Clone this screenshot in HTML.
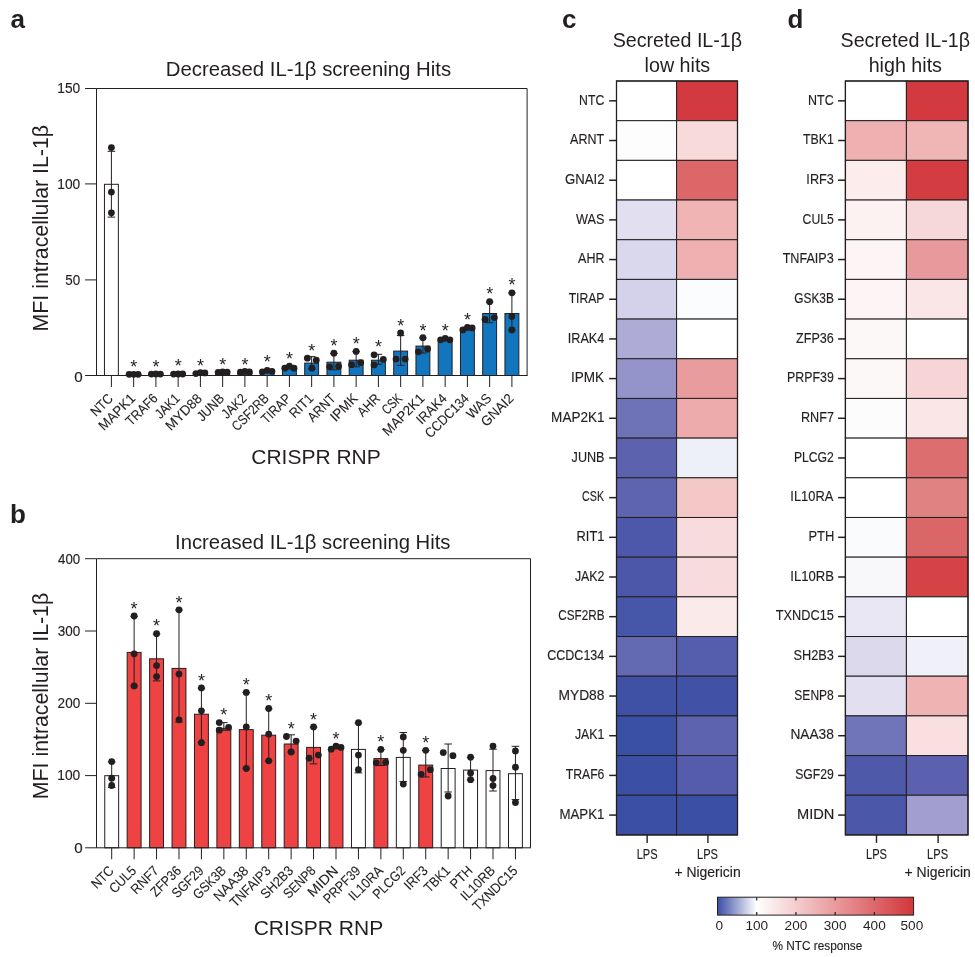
<!DOCTYPE html>
<html lang="en"><head><meta charset="utf-8"><title>IL-1β screening hits</title>
<style>html,body{margin:0;padding:0;background:#fff}svg{display:block}</style></head>
<body>
<svg width="975" height="957" viewBox="0 0 975 957" font-family='"Liberation Sans", Arial, sans-serif'>
<defs><linearGradient id="cb" x1="0" x2="1" y1="0" y2="0"><stop offset="0" stop-color="#3b4ea5"/><stop offset="0.2" stop-color="#ffffff"/><stop offset="1" stop-color="#d2363b"/></linearGradient></defs>
<rect width="975" height="957" fill="#ffffff"/>
<rect x="104.45" y="184.3" width="13.9" height="191.2" fill="#ffffff" stroke="#231f20" stroke-width="1"/>
<rect x="126.7" y="373.6" width="13.9" height="1.9" fill="#1276be" stroke="#231f20" stroke-width="1"/>
<rect x="148.95" y="373.4" width="13.9" height="2.1" fill="#1276be" stroke="#231f20" stroke-width="1"/>
<rect x="171.2" y="373.3" width="13.9" height="2.2" fill="#1276be" stroke="#231f20" stroke-width="1"/>
<rect x="193.45" y="372.6" width="13.9" height="2.9" fill="#1276be" stroke="#231f20" stroke-width="1"/>
<rect x="215.7" y="372.2" width="13.9" height="3.3" fill="#1276be" stroke="#231f20" stroke-width="1"/>
<rect x="237.95" y="372" width="13.9" height="3.5" fill="#1276be" stroke="#231f20" stroke-width="1"/>
<rect x="260.2" y="371.3" width="13.9" height="4.2" fill="#1276be" stroke="#231f20" stroke-width="1"/>
<rect x="282.45" y="368" width="13.9" height="7.5" fill="#1276be" stroke="#231f20" stroke-width="1"/>
<rect x="304.7" y="363.1" width="13.9" height="12.4" fill="#1276be" stroke="#231f20" stroke-width="1"/>
<rect x="326.95" y="362.2" width="13.9" height="13.3" fill="#1276be" stroke="#231f20" stroke-width="1"/>
<rect x="349.2" y="360.2" width="13.9" height="15.3" fill="#1276be" stroke="#231f20" stroke-width="1"/>
<rect x="371.45" y="360.2" width="13.9" height="15.3" fill="#1276be" stroke="#231f20" stroke-width="1"/>
<rect x="393.7" y="351.1" width="13.9" height="24.4" fill="#1276be" stroke="#231f20" stroke-width="1"/>
<rect x="415.95" y="346.1" width="13.9" height="29.4" fill="#1276be" stroke="#231f20" stroke-width="1"/>
<rect x="438.2" y="340" width="13.9" height="35.5" fill="#1276be" stroke="#231f20" stroke-width="1"/>
<rect x="460.45" y="329.4" width="13.9" height="46.1" fill="#1276be" stroke="#231f20" stroke-width="1"/>
<rect x="482.7" y="313.5" width="13.9" height="62" fill="#1276be" stroke="#231f20" stroke-width="1"/>
<rect x="504.95" y="313.5" width="13.9" height="62" fill="#1276be" stroke="#231f20" stroke-width="1"/>
<path d="M96.5 375.5V88.5H527.1V375.5" fill="none" stroke="#231f20" stroke-width="1"/>
<line x1="85.1" y1="375.5" x2="527.6" y2="375.5" stroke="#231f20" stroke-width="1" />
<line x1="85.1" y1="88.5" x2="96.5" y2="88.5" stroke="#231f20" stroke-width="1" />
<text transform="translate(57.27 93.3) scale(0.9973 1)" font-size="13.8" fill="#231f20" stroke="#231f20" stroke-width="0.15">150</text>
<line x1="85.1" y1="183.9" x2="96.5" y2="183.9" stroke="#231f20" stroke-width="1" />
<text transform="translate(57.27 188.7) scale(0.9973 1)" font-size="13.8" fill="#231f20" stroke="#231f20" stroke-width="0.15">100</text>
<line x1="85.1" y1="279.9" x2="96.5" y2="279.9" stroke="#231f20" stroke-width="1" />
<text transform="translate(65.16 284.7) scale(0.9732 1)" font-size="13.8" fill="#231f20" stroke="#231f20" stroke-width="0.15">50</text>
<text transform="translate(74.19 382.1) scale(1.1021 1)" font-size="13.8" fill="#231f20" stroke="#231f20" stroke-width="0.15">0</text>
<line x1="111.4" y1="375.5" x2="111.4" y2="387" stroke="#231f20" stroke-width="1" />
<line x1="111.4" y1="151.3" x2="111.4" y2="217.1" stroke="#231f20" stroke-width="1" />
<line x1="107.6" y1="151.3" x2="115.2" y2="151.3" stroke="#231f20" stroke-width="1" />
<line x1="107.6" y1="217.1" x2="115.2" y2="217.1" stroke="#231f20" stroke-width="1" />
<circle cx="111.4" cy="147.6" r="3.4" fill="#231f20"/>
<circle cx="111.4" cy="192.1" r="3.4" fill="#231f20"/>
<circle cx="111.4" cy="212.8" r="3.4" fill="#231f20"/>
<text transform="translate(113.9 399.3) rotate(-45) scale(0.8994 1)" text-anchor="end" font-size="13.8" fill="#231f20" stroke="#231f20" stroke-width="0.1">NTC</text>
<line x1="133.65" y1="375.5" x2="133.65" y2="387" stroke="#231f20" stroke-width="1" />
<circle cx="129.15" cy="374.3" r="3.4" fill="#231f20"/>
<circle cx="133.65" cy="374.3" r="3.4" fill="#231f20"/>
<circle cx="138.15" cy="374.3" r="3.4" fill="#231f20"/>
<text x="133.65" y="372.7" font-size="18" text-anchor="middle" fill="#231f20" >*</text>
<text transform="translate(136.15 399.3) rotate(-45) scale(0.9683 1)" text-anchor="end" font-size="13.8" fill="#231f20" stroke="#231f20" stroke-width="0.1">MAPK1</text>
<line x1="155.9" y1="375.5" x2="155.9" y2="387" stroke="#231f20" stroke-width="1" />
<circle cx="151.4" cy="374.1" r="3.4" fill="#231f20"/>
<circle cx="155.9" cy="374" r="3.4" fill="#231f20"/>
<circle cx="160.4" cy="374.1" r="3.4" fill="#231f20"/>
<text x="155.9" y="372.5" font-size="18" text-anchor="middle" fill="#231f20" >*</text>
<text transform="translate(158.4 399.3) rotate(-45) scale(0.8780 1)" text-anchor="end" font-size="13.8" fill="#231f20" stroke="#231f20" stroke-width="0.1">TRAF6</text>
<line x1="178.15" y1="375.5" x2="178.15" y2="387" stroke="#231f20" stroke-width="1" />
<circle cx="173.65" cy="374.1" r="3.4" fill="#231f20"/>
<circle cx="178.15" cy="374" r="3.4" fill="#231f20"/>
<circle cx="182.65" cy="374" r="3.4" fill="#231f20"/>
<text x="178.15" y="372.4" font-size="18" text-anchor="middle" fill="#231f20" >*</text>
<text transform="translate(180.65 399.3) rotate(-45) scale(0.8689 1)" text-anchor="end" font-size="13.8" fill="#231f20" stroke="#231f20" stroke-width="0.1">JAK1</text>
<line x1="200.4" y1="375.5" x2="200.4" y2="387" stroke="#231f20" stroke-width="1" />
<circle cx="195.9" cy="373.6" r="3.4" fill="#231f20"/>
<circle cx="200.4" cy="372.7" r="3.4" fill="#231f20"/>
<circle cx="204.9" cy="372.9" r="3.4" fill="#231f20"/>
<text x="200.4" y="371.6" font-size="18" text-anchor="middle" fill="#231f20" >*</text>
<text transform="translate(202.9 399.3) rotate(-45) scale(0.9810 1)" text-anchor="end" font-size="13.8" fill="#231f20" stroke="#231f20" stroke-width="0.1">MYD88</text>
<line x1="222.65" y1="375.5" x2="222.65" y2="387" stroke="#231f20" stroke-width="1" />
<circle cx="218.15" cy="372.3" r="3.4" fill="#231f20"/>
<circle cx="222.65" cy="371.8" r="3.4" fill="#231f20"/>
<circle cx="227.15" cy="372.1" r="3.4" fill="#231f20"/>
<text x="222.65" y="370.6" font-size="18" text-anchor="middle" fill="#231f20" >*</text>
<text transform="translate(225.15 399.3) rotate(-45) scale(0.8913 1)" text-anchor="end" font-size="13.8" fill="#231f20" stroke="#231f20" stroke-width="0.1">JUNB</text>
<line x1="244.9" y1="375.5" x2="244.9" y2="387" stroke="#231f20" stroke-width="1" />
<circle cx="240.4" cy="372.2" r="3.4" fill="#231f20"/>
<circle cx="244.9" cy="371.4" r="3.4" fill="#231f20"/>
<circle cx="249.4" cy="372" r="3.4" fill="#231f20"/>
<text x="244.9" y="370.6" font-size="18" text-anchor="middle" fill="#231f20" >*</text>
<text transform="translate(247.4 399.3) rotate(-45) scale(0.8707 1)" text-anchor="end" font-size="13.8" fill="#231f20" stroke="#231f20" stroke-width="0.1">JAK2</text>
<line x1="267.15" y1="375.5" x2="267.15" y2="387" stroke="#231f20" stroke-width="1" />
<circle cx="262.35" cy="371.8" r="3.4" fill="#231f20"/>
<circle cx="267.15" cy="370.3" r="3.4" fill="#231f20"/>
<circle cx="271.95" cy="371.3" r="3.4" fill="#231f20"/>
<text x="267.15" y="368.4" font-size="18" text-anchor="middle" fill="#231f20" >*</text>
<text transform="translate(269.65 399.3) rotate(-45) scale(0.8410 1)" text-anchor="end" font-size="13.8" fill="#231f20" stroke="#231f20" stroke-width="0.1">CSF2RB</text>
<line x1="289.4" y1="375.5" x2="289.4" y2="387" stroke="#231f20" stroke-width="1" />
<circle cx="284.8" cy="368.2" r="3.4" fill="#231f20"/>
<circle cx="289.4" cy="366.2" r="3.4" fill="#231f20"/>
<circle cx="294" cy="368.2" r="3.4" fill="#231f20"/>
<text x="289.4" y="364.5" font-size="18" text-anchor="middle" fill="#231f20" >*</text>
<text transform="translate(291.9 399.3) rotate(-45) scale(0.8743 1)" text-anchor="end" font-size="13.8" fill="#231f20" stroke="#231f20" stroke-width="0.1">TIRAP</text>
<line x1="311.65" y1="375.5" x2="311.65" y2="387" stroke="#231f20" stroke-width="1" />
<line x1="311.65" y1="356.6" x2="311.65" y2="369" stroke="#231f20" stroke-width="1" />
<line x1="307.85" y1="356.6" x2="315.45" y2="356.6" stroke="#231f20" stroke-width="1" />
<line x1="307.85" y1="369" x2="315.45" y2="369" stroke="#231f20" stroke-width="1" />
<circle cx="307.35" cy="358.2" r="3.4" fill="#231f20"/>
<circle cx="316.25" cy="360.2" r="3.4" fill="#231f20"/>
<circle cx="311.95" cy="368.2" r="3.4" fill="#231f20"/>
<text x="311.65" y="356.5" font-size="18" text-anchor="middle" fill="#231f20" >*</text>
<text transform="translate(314.15 399.3) rotate(-45) scale(0.9204 1)" text-anchor="end" font-size="13.8" fill="#231f20" stroke="#231f20" stroke-width="0.1">RIT1</text>
<line x1="333.9" y1="375.5" x2="333.9" y2="387" stroke="#231f20" stroke-width="1" />
<line x1="333.9" y1="353.4" x2="333.9" y2="369.8" stroke="#231f20" stroke-width="1" />
<line x1="330.1" y1="353.4" x2="337.7" y2="353.4" stroke="#231f20" stroke-width="1" />
<line x1="330.1" y1="369.8" x2="337.7" y2="369.8" stroke="#231f20" stroke-width="1" />
<circle cx="333.9" cy="353.2" r="3.4" fill="#231f20"/>
<circle cx="329.6" cy="366.8" r="3.4" fill="#231f20"/>
<circle cx="338.6" cy="366.5" r="3.4" fill="#231f20"/>
<text x="333.9" y="351.6" font-size="18" text-anchor="middle" fill="#231f20" >*</text>
<text transform="translate(336.4 399.3) rotate(-45) scale(0.8818 1)" text-anchor="end" font-size="13.8" fill="#231f20" stroke="#231f20" stroke-width="0.1">ARNT</text>
<line x1="356.15" y1="375.5" x2="356.15" y2="387" stroke="#231f20" stroke-width="1" />
<line x1="356.15" y1="351.6" x2="356.15" y2="366.8" stroke="#231f20" stroke-width="1" />
<line x1="352.35" y1="351.6" x2="359.95" y2="351.6" stroke="#231f20" stroke-width="1" />
<line x1="352.35" y1="366.8" x2="359.95" y2="366.8" stroke="#231f20" stroke-width="1" />
<circle cx="356.15" cy="351.4" r="3.4" fill="#231f20"/>
<circle cx="351.55" cy="364.7" r="3.4" fill="#231f20"/>
<circle cx="360.65" cy="362.7" r="3.4" fill="#231f20"/>
<text x="356.15" y="350.3" font-size="18" text-anchor="middle" fill="#231f20" >*</text>
<text transform="translate(358.65 399.3) rotate(-45) scale(0.9641 1)" text-anchor="end" font-size="13.8" fill="#231f20" stroke="#231f20" stroke-width="0.1">IPMK</text>
<line x1="378.4" y1="375.5" x2="378.4" y2="387" stroke="#231f20" stroke-width="1" />
<line x1="378.4" y1="354.3" x2="378.4" y2="364.3" stroke="#231f20" stroke-width="1" />
<line x1="374.6" y1="354.3" x2="382.2" y2="354.3" stroke="#231f20" stroke-width="1" />
<line x1="374.6" y1="364.3" x2="382.2" y2="364.3" stroke="#231f20" stroke-width="1" />
<circle cx="374.1" cy="354.8" r="3.4" fill="#231f20"/>
<circle cx="374.1" cy="364.9" r="3.4" fill="#231f20"/>
<circle cx="383.3" cy="359.4" r="3.4" fill="#231f20"/>
<text x="378.4" y="353.3" font-size="18" text-anchor="middle" fill="#231f20" >*</text>
<text transform="translate(380.9 399.3) rotate(-45) scale(0.8863 1)" text-anchor="end" font-size="13.8" fill="#231f20" stroke="#231f20" stroke-width="0.1">AHR</text>
<line x1="400.65" y1="375.5" x2="400.65" y2="387" stroke="#231f20" stroke-width="1" />
<line x1="400.65" y1="335.6" x2="400.65" y2="365.3" stroke="#231f20" stroke-width="1" />
<line x1="396.85" y1="335.6" x2="404.45" y2="335.6" stroke="#231f20" stroke-width="1" />
<line x1="396.85" y1="365.3" x2="404.45" y2="365.3" stroke="#231f20" stroke-width="1" />
<circle cx="400.65" cy="332.9" r="3.4" fill="#231f20"/>
<circle cx="396.05" cy="359.1" r="3.4" fill="#231f20"/>
<circle cx="405.15" cy="359.1" r="3.4" fill="#231f20"/>
<text x="400.65" y="331.6" font-size="18" text-anchor="middle" fill="#231f20" >*</text>
<text transform="translate(403.15 399.3) rotate(-45) scale(0.7912 1)" text-anchor="end" font-size="13.8" fill="#231f20" stroke="#231f20" stroke-width="0.1">CSK</text>
<line x1="422.9" y1="375.5" x2="422.9" y2="387" stroke="#231f20" stroke-width="1" />
<line x1="422.9" y1="338" x2="422.9" y2="353" stroke="#231f20" stroke-width="1" />
<line x1="419.1" y1="338" x2="426.7" y2="338" stroke="#231f20" stroke-width="1" />
<line x1="419.1" y1="353" x2="426.7" y2="353" stroke="#231f20" stroke-width="1" />
<circle cx="422.9" cy="337.7" r="3.4" fill="#231f20"/>
<circle cx="418.4" cy="351.8" r="3.4" fill="#231f20"/>
<circle cx="427.6" cy="349" r="3.4" fill="#231f20"/>
<text x="422.9" y="336.8" font-size="18" text-anchor="middle" fill="#231f20" >*</text>
<text transform="translate(425.4 399.3) rotate(-45) scale(0.9709 1)" text-anchor="end" font-size="13.8" fill="#231f20" stroke="#231f20" stroke-width="0.1">MAP2K1</text>
<line x1="445.15" y1="375.5" x2="445.15" y2="387" stroke="#231f20" stroke-width="1" />
<circle cx="440.65" cy="339.8" r="3.4" fill="#231f20"/>
<circle cx="445.15" cy="338.3" r="3.4" fill="#231f20"/>
<circle cx="449.85" cy="339.8" r="3.4" fill="#231f20"/>
<text x="445.15" y="336.8" font-size="18" text-anchor="middle" fill="#231f20" >*</text>
<text transform="translate(447.65 399.3) rotate(-45) scale(0.9164 1)" text-anchor="end" font-size="13.8" fill="#231f20" stroke="#231f20" stroke-width="0.1">IRAK4</text>
<line x1="467.4" y1="375.5" x2="467.4" y2="387" stroke="#231f20" stroke-width="1" />
<circle cx="462.9" cy="329.9" r="3.4" fill="#231f20"/>
<circle cx="467.4" cy="327.4" r="3.4" fill="#231f20"/>
<circle cx="472.1" cy="327.9" r="3.4" fill="#231f20"/>
<text x="467.4" y="325.7" font-size="18" text-anchor="middle" fill="#231f20" >*</text>
<text transform="translate(469.9 399.3) rotate(-45) scale(0.8891 1)" text-anchor="end" font-size="13.8" fill="#231f20" stroke="#231f20" stroke-width="0.1">CCDC134</text>
<line x1="489.65" y1="375.5" x2="489.65" y2="387" stroke="#231f20" stroke-width="1" />
<line x1="489.65" y1="302" x2="489.65" y2="322.7" stroke="#231f20" stroke-width="1" />
<line x1="485.85" y1="302" x2="493.45" y2="302" stroke="#231f20" stroke-width="1" />
<line x1="485.85" y1="322.7" x2="493.45" y2="322.7" stroke="#231f20" stroke-width="1" />
<circle cx="489.65" cy="301.7" r="3.4" fill="#231f20"/>
<circle cx="485.05" cy="319.5" r="3.4" fill="#231f20"/>
<circle cx="494.35" cy="317.6" r="3.4" fill="#231f20"/>
<text x="489.65" y="300.4" font-size="18" text-anchor="middle" fill="#231f20" >*</text>
<text transform="translate(492.15 399.3) rotate(-45) scale(0.9259 1)" text-anchor="end" font-size="13.8" fill="#231f20" stroke="#231f20" stroke-width="0.1">WAS</text>
<line x1="511.9" y1="375.5" x2="511.9" y2="387" stroke="#231f20" stroke-width="1" />
<line x1="511.9" y1="293" x2="511.9" y2="330.2" stroke="#231f20" stroke-width="1" />
<line x1="508.1" y1="293" x2="515.7" y2="293" stroke="#231f20" stroke-width="1" />
<line x1="508.1" y1="330.2" x2="515.7" y2="330.2" stroke="#231f20" stroke-width="1" />
<circle cx="511.9" cy="292.8" r="3.4" fill="#231f20"/>
<circle cx="511.9" cy="316.4" r="3.4" fill="#231f20"/>
<circle cx="511.9" cy="329.9" r="3.4" fill="#231f20"/>
<text x="511.9" y="290.6" font-size="18" text-anchor="middle" fill="#231f20" >*</text>
<text transform="translate(514.4 399.3) rotate(-45) scale(0.9550 1)" text-anchor="end" font-size="13.8" fill="#231f20" stroke="#231f20" stroke-width="0.1">GNAI2</text>
<text x="308.4" y="76.3" font-size="20.35" text-anchor="middle" fill="#231f20" >Decreased IL-1β screening Hits</text>
<text x="316" y="464.1" font-size="21" text-anchor="middle" fill="#231f20" >CRISPR RNP</text>
<text x="48.3" y="228.2" font-size="21.3" text-anchor="middle" transform="rotate(-90 48.3 228.2)" fill="#231f20" >MFI intracellular IL-1β</text>
<text x="10.6" y="28.2" font-size="26" font-weight="bold" fill="#231f20" >a</text>
<rect x="104.75" y="775.7" width="13.9" height="72.1" fill="#ffffff" stroke="#231f20" stroke-width="1"/>
<rect x="127.18" y="652.4" width="13.9" height="195.4" fill="#ee4243" stroke="#231f20" stroke-width="1"/>
<rect x="149.61" y="658.8" width="13.9" height="189" fill="#ee4243" stroke="#231f20" stroke-width="1"/>
<rect x="172.04" y="668.4" width="13.9" height="179.4" fill="#ee4243" stroke="#231f20" stroke-width="1"/>
<rect x="194.47" y="714.2" width="13.9" height="133.6" fill="#ee4243" stroke="#231f20" stroke-width="1"/>
<rect x="216.9" y="728.3" width="13.9" height="119.5" fill="#ee4243" stroke="#231f20" stroke-width="1"/>
<rect x="239.33" y="729.6" width="13.9" height="118.2" fill="#ee4243" stroke="#231f20" stroke-width="1"/>
<rect x="261.76" y="735.2" width="13.9" height="112.6" fill="#ee4243" stroke="#231f20" stroke-width="1"/>
<rect x="284.19" y="744" width="13.9" height="103.8" fill="#ee4243" stroke="#231f20" stroke-width="1"/>
<rect x="306.62" y="747.4" width="13.9" height="100.4" fill="#ee4243" stroke="#231f20" stroke-width="1"/>
<rect x="329.05" y="748.6" width="13.9" height="99.2" fill="#ee4243" stroke="#231f20" stroke-width="1"/>
<rect x="351.48" y="749.4" width="13.9" height="98.4" fill="#ffffff" stroke="#231f20" stroke-width="1"/>
<rect x="373.91" y="758.6" width="13.9" height="89.2" fill="#ee4243" stroke="#231f20" stroke-width="1"/>
<rect x="396.34" y="757.4" width="13.9" height="90.4" fill="#ffffff" stroke="#231f20" stroke-width="1"/>
<rect x="418.77" y="765.1" width="13.9" height="82.7" fill="#ee4243" stroke="#231f20" stroke-width="1"/>
<rect x="441.2" y="768.5" width="13.9" height="79.3" fill="#ffffff" stroke="#231f20" stroke-width="1"/>
<rect x="463.63" y="770.1" width="13.9" height="77.7" fill="#ffffff" stroke="#231f20" stroke-width="1"/>
<rect x="486.06" y="770.6" width="13.9" height="77.2" fill="#ffffff" stroke="#231f20" stroke-width="1"/>
<rect x="508.49" y="773.7" width="13.9" height="74.1" fill="#ffffff" stroke="#231f20" stroke-width="1"/>
<path d="M96.5 847.8V558.7H530.5V847.8" fill="none" stroke="#231f20" stroke-width="1"/>
<line x1="85.1" y1="847.8" x2="531" y2="847.8" stroke="#231f20" stroke-width="1" />
<line x1="85.1" y1="558.7" x2="96.5" y2="558.7" stroke="#231f20" stroke-width="1" />
<text transform="translate(58.03 563.5) scale(0.9632 1)" font-size="13.8" fill="#231f20" stroke="#231f20" stroke-width="0.15">400</text>
<line x1="85.1" y1="631" x2="96.5" y2="631" stroke="#231f20" stroke-width="1" />
<text transform="translate(57.76 635.8) scale(0.9753 1)" font-size="13.8" fill="#231f20" stroke="#231f20" stroke-width="0.15">300</text>
<line x1="85.1" y1="703.3" x2="96.5" y2="703.3" stroke="#231f20" stroke-width="1" />
<text transform="translate(57.62 708.1) scale(0.9815 1)" font-size="13.8" fill="#231f20" stroke="#231f20" stroke-width="0.15">200</text>
<line x1="85.1" y1="775.6" x2="96.5" y2="775.6" stroke="#231f20" stroke-width="1" />
<text transform="translate(57.27 780.4) scale(0.9973 1)" font-size="13.8" fill="#231f20" stroke="#231f20" stroke-width="0.15">100</text>
<text transform="translate(74.19 852.6) scale(1.1021 1)" font-size="13.8" fill="#231f20" stroke="#231f20" stroke-width="0.15">0</text>
<line x1="111.7" y1="847.8" x2="111.7" y2="859.3" stroke="#231f20" stroke-width="1" />
<line x1="111.7" y1="762" x2="111.7" y2="787.5" stroke="#231f20" stroke-width="1" />
<line x1="107.9" y1="762" x2="115.5" y2="762" stroke="#231f20" stroke-width="1" />
<line x1="107.9" y1="787.5" x2="115.5" y2="787.5" stroke="#231f20" stroke-width="1" />
<circle cx="111.7" cy="761.6" r="3.4" fill="#231f20"/>
<circle cx="111.7" cy="778.2" r="3.4" fill="#231f20"/>
<circle cx="111.7" cy="785.5" r="3.4" fill="#231f20"/>
<text transform="translate(114.7 871.6) rotate(-45) scale(0.8994 1)" text-anchor="end" font-size="13.8" fill="#231f20" stroke="#231f20" stroke-width="0.1">NTC</text>
<line x1="134.13" y1="847.8" x2="134.13" y2="859.3" stroke="#231f20" stroke-width="1" />
<line x1="134.13" y1="616.3" x2="134.13" y2="686" stroke="#231f20" stroke-width="1" />
<line x1="130.33" y1="616.3" x2="137.93" y2="616.3" stroke="#231f20" stroke-width="1" />
<line x1="130.33" y1="686" x2="137.93" y2="686" stroke="#231f20" stroke-width="1" />
<circle cx="134.13" cy="616" r="3.4" fill="#231f20"/>
<circle cx="134.13" cy="653.8" r="3.4" fill="#231f20"/>
<circle cx="134.13" cy="685.9" r="3.4" fill="#231f20"/>
<text x="134.13" y="614.6" font-size="18" text-anchor="middle" fill="#231f20" >*</text>
<text transform="translate(137.13 871.6) rotate(-45) scale(0.8988 1)" text-anchor="end" font-size="13.8" fill="#231f20" stroke="#231f20" stroke-width="0.1">CUL5</text>
<line x1="156.56" y1="847.8" x2="156.56" y2="859.3" stroke="#231f20" stroke-width="1" />
<line x1="156.56" y1="634" x2="156.56" y2="680.9" stroke="#231f20" stroke-width="1" />
<line x1="152.76" y1="634" x2="160.36" y2="634" stroke="#231f20" stroke-width="1" />
<line x1="152.76" y1="680.9" x2="160.36" y2="680.9" stroke="#231f20" stroke-width="1" />
<circle cx="156.56" cy="633.7" r="3.4" fill="#231f20"/>
<circle cx="156.56" cy="665.6" r="3.4" fill="#231f20"/>
<circle cx="156.56" cy="676.6" r="3.4" fill="#231f20"/>
<text x="156.56" y="632.1" font-size="18" text-anchor="middle" fill="#231f20" >*</text>
<text transform="translate(159.56 871.6) rotate(-45) scale(0.9164 1)" text-anchor="end" font-size="13.8" fill="#231f20" stroke="#231f20" stroke-width="0.1">RNF7</text>
<line x1="178.99" y1="847.8" x2="178.99" y2="859.3" stroke="#231f20" stroke-width="1" />
<line x1="178.99" y1="610" x2="178.99" y2="722" stroke="#231f20" stroke-width="1" />
<line x1="175.19" y1="610" x2="182.79" y2="610" stroke="#231f20" stroke-width="1" />
<line x1="175.19" y1="722" x2="182.79" y2="722" stroke="#231f20" stroke-width="1" />
<circle cx="178.99" cy="609.8" r="3.4" fill="#231f20"/>
<circle cx="178.99" cy="674.1" r="3.4" fill="#231f20"/>
<circle cx="178.99" cy="719.8" r="3.4" fill="#231f20"/>
<text x="178.99" y="608.6" font-size="18" text-anchor="middle" fill="#231f20" >*</text>
<text transform="translate(181.99 871.6) rotate(-45) scale(0.8874 1)" text-anchor="end" font-size="13.8" fill="#231f20" stroke="#231f20" stroke-width="0.1">ZFP36</text>
<line x1="201.42" y1="847.8" x2="201.42" y2="859.3" stroke="#231f20" stroke-width="1" />
<line x1="201.42" y1="688.2" x2="201.42" y2="742.5" stroke="#231f20" stroke-width="1" />
<line x1="197.62" y1="688.2" x2="205.22" y2="688.2" stroke="#231f20" stroke-width="1" />
<line x1="197.62" y1="742.5" x2="205.22" y2="742.5" stroke="#231f20" stroke-width="1" />
<circle cx="201.42" cy="687.9" r="3.4" fill="#231f20"/>
<circle cx="201.42" cy="710.8" r="3.4" fill="#231f20"/>
<circle cx="201.42" cy="742.7" r="3.4" fill="#231f20"/>
<text x="201.42" y="686.6" font-size="18" text-anchor="middle" fill="#231f20" >*</text>
<text transform="translate(204.42 871.6) rotate(-45) scale(0.8824 1)" text-anchor="end" font-size="13.8" fill="#231f20" stroke="#231f20" stroke-width="0.1">SGF29</text>
<line x1="223.85" y1="847.8" x2="223.85" y2="859.3" stroke="#231f20" stroke-width="1" />
<line x1="223.85" y1="722.6" x2="223.85" y2="730.2" stroke="#231f20" stroke-width="1" />
<line x1="220.05" y1="722.6" x2="227.65" y2="722.6" stroke="#231f20" stroke-width="1" />
<line x1="220.05" y1="730.2" x2="227.65" y2="730.2" stroke="#231f20" stroke-width="1" />
<circle cx="219.25" cy="722.6" r="3.4" fill="#231f20"/>
<circle cx="219.25" cy="730.2" r="3.4" fill="#231f20"/>
<circle cx="228.55" cy="727.4" r="3.4" fill="#231f20"/>
<text x="223.85" y="720.6" font-size="18" text-anchor="middle" fill="#231f20" >*</text>
<text transform="translate(226.85 871.6) rotate(-45) scale(0.8714 1)" text-anchor="end" font-size="13.8" fill="#231f20" stroke="#231f20" stroke-width="0.1">GSK3B</text>
<line x1="246.28" y1="847.8" x2="246.28" y2="859.3" stroke="#231f20" stroke-width="1" />
<line x1="246.28" y1="692.6" x2="246.28" y2="768.3" stroke="#231f20" stroke-width="1" />
<line x1="242.48" y1="692.6" x2="250.08" y2="692.6" stroke="#231f20" stroke-width="1" />
<line x1="242.48" y1="768.3" x2="250.08" y2="768.3" stroke="#231f20" stroke-width="1" />
<circle cx="246.28" cy="692.4" r="3.4" fill="#231f20"/>
<circle cx="246.28" cy="726.9" r="3.4" fill="#231f20"/>
<circle cx="246.28" cy="768.5" r="3.4" fill="#231f20"/>
<text x="246.28" y="691.1" font-size="18" text-anchor="middle" fill="#231f20" >*</text>
<text transform="translate(249.28 871.6) rotate(-45) scale(0.9815 1)" text-anchor="end" font-size="13.8" fill="#231f20" stroke="#231f20" stroke-width="0.1">NAA38</text>
<line x1="268.71" y1="847.8" x2="268.71" y2="859.3" stroke="#231f20" stroke-width="1" />
<line x1="268.71" y1="708.8" x2="268.71" y2="760.9" stroke="#231f20" stroke-width="1" />
<line x1="264.91" y1="708.8" x2="272.51" y2="708.8" stroke="#231f20" stroke-width="1" />
<line x1="264.91" y1="760.9" x2="272.51" y2="760.9" stroke="#231f20" stroke-width="1" />
<circle cx="268.71" cy="708.5" r="3.4" fill="#231f20"/>
<circle cx="268.71" cy="734.2" r="3.4" fill="#231f20"/>
<circle cx="268.71" cy="760.9" r="3.4" fill="#231f20"/>
<text x="268.71" y="707.1" font-size="18" text-anchor="middle" fill="#231f20" >*</text>
<text transform="translate(271.71 871.6) rotate(-45) scale(0.9181 1)" text-anchor="end" font-size="13.8" fill="#231f20" stroke="#231f20" stroke-width="0.1">TNFAIP3</text>
<line x1="291.14" y1="847.8" x2="291.14" y2="859.3" stroke="#231f20" stroke-width="1" />
<line x1="291.14" y1="734.8" x2="291.14" y2="752" stroke="#231f20" stroke-width="1" />
<line x1="287.34" y1="734.8" x2="294.94" y2="734.8" stroke="#231f20" stroke-width="1" />
<line x1="287.34" y1="752" x2="294.94" y2="752" stroke="#231f20" stroke-width="1" />
<circle cx="286.44" cy="736.5" r="3.4" fill="#231f20"/>
<circle cx="296.14" cy="741.1" r="3.4" fill="#231f20"/>
<circle cx="291.14" cy="752" r="3.4" fill="#231f20"/>
<text x="291.14" y="735.1" font-size="18" text-anchor="middle" fill="#231f20" >*</text>
<text transform="translate(294.14 871.6) rotate(-45) scale(0.9079 1)" text-anchor="end" font-size="13.8" fill="#231f20" stroke="#231f20" stroke-width="0.1">SH2B3</text>
<line x1="313.57" y1="847.8" x2="313.57" y2="859.3" stroke="#231f20" stroke-width="1" />
<line x1="313.57" y1="727.2" x2="313.57" y2="763.9" stroke="#231f20" stroke-width="1" />
<line x1="309.77" y1="727.2" x2="317.37" y2="727.2" stroke="#231f20" stroke-width="1" />
<line x1="309.77" y1="763.9" x2="317.37" y2="763.9" stroke="#231f20" stroke-width="1" />
<circle cx="313.57" cy="726.9" r="3.4" fill="#231f20"/>
<circle cx="309.07" cy="758.2" r="3.4" fill="#231f20"/>
<circle cx="318.37" cy="755.1" r="3.4" fill="#231f20"/>
<text x="313.57" y="725.6" font-size="18" text-anchor="middle" fill="#231f20" >*</text>
<text transform="translate(316.57 871.6) rotate(-45) scale(0.8675 1)" text-anchor="end" font-size="13.8" fill="#231f20" stroke="#231f20" stroke-width="0.1">SENP8</text>
<line x1="336" y1="847.8" x2="336" y2="859.3" stroke="#231f20" stroke-width="1" />
<circle cx="331.2" cy="749.2" r="3.4" fill="#231f20"/>
<circle cx="336" cy="746.1" r="3.4" fill="#231f20"/>
<circle cx="341" cy="747.4" r="3.4" fill="#231f20"/>
<text x="336" y="744.6" font-size="18" text-anchor="middle" fill="#231f20" >*</text>
<text transform="translate(339 871.6) rotate(-45) scale(1.0450 1)" text-anchor="end" font-size="13.8" fill="#231f20" stroke="#231f20" stroke-width="0.1">MIDN</text>
<line x1="358.43" y1="847.8" x2="358.43" y2="859.3" stroke="#231f20" stroke-width="1" />
<line x1="358.43" y1="723" x2="358.43" y2="772.9" stroke="#231f20" stroke-width="1" />
<line x1="354.63" y1="723" x2="362.23" y2="723" stroke="#231f20" stroke-width="1" />
<line x1="354.63" y1="772.9" x2="362.23" y2="772.9" stroke="#231f20" stroke-width="1" />
<circle cx="358.43" cy="722.7" r="3.4" fill="#231f20"/>
<circle cx="358.43" cy="755.1" r="3.4" fill="#231f20"/>
<circle cx="358.43" cy="769.7" r="3.4" fill="#231f20"/>
<text transform="translate(361.43 871.6) rotate(-45) scale(0.8862 1)" text-anchor="end" font-size="13.8" fill="#231f20" stroke="#231f20" stroke-width="0.1">PRPF39</text>
<line x1="380.86" y1="847.8" x2="380.86" y2="859.3" stroke="#231f20" stroke-width="1" />
<line x1="380.86" y1="749.6" x2="380.86" y2="765.5" stroke="#231f20" stroke-width="1" />
<line x1="377.06" y1="749.6" x2="384.66" y2="749.6" stroke="#231f20" stroke-width="1" />
<line x1="377.06" y1="765.5" x2="384.66" y2="765.5" stroke="#231f20" stroke-width="1" />
<circle cx="380.86" cy="749.4" r="3.4" fill="#231f20"/>
<circle cx="376.26" cy="762.8" r="3.4" fill="#231f20"/>
<circle cx="385.66" cy="762.4" r="3.4" fill="#231f20"/>
<text x="380.86" y="747.6" font-size="18" text-anchor="middle" fill="#231f20" >*</text>
<text transform="translate(383.86 871.6) rotate(-45) scale(0.9177 1)" text-anchor="end" font-size="13.8" fill="#231f20" stroke="#231f20" stroke-width="0.1">IL10RA</text>
<line x1="403.29" y1="847.8" x2="403.29" y2="859.3" stroke="#231f20" stroke-width="1" />
<line x1="403.29" y1="732.5" x2="403.29" y2="781.6" stroke="#231f20" stroke-width="1" />
<line x1="399.49" y1="732.5" x2="407.09" y2="732.5" stroke="#231f20" stroke-width="1" />
<line x1="399.49" y1="781.6" x2="407.09" y2="781.6" stroke="#231f20" stroke-width="1" />
<circle cx="403.29" cy="736.9" r="3.4" fill="#231f20"/>
<circle cx="403.29" cy="750.3" r="3.4" fill="#231f20"/>
<circle cx="403.29" cy="784.1" r="3.4" fill="#231f20"/>
<text transform="translate(406.29 871.6) rotate(-45) scale(0.8768 1)" text-anchor="end" font-size="13.8" fill="#231f20" stroke="#231f20" stroke-width="0.1">PLCG2</text>
<line x1="425.72" y1="847.8" x2="425.72" y2="859.3" stroke="#231f20" stroke-width="1" />
<line x1="425.72" y1="750.5" x2="425.72" y2="777" stroke="#231f20" stroke-width="1" />
<line x1="421.92" y1="750.5" x2="429.52" y2="750.5" stroke="#231f20" stroke-width="1" />
<line x1="421.92" y1="777" x2="429.52" y2="777" stroke="#231f20" stroke-width="1" />
<circle cx="425.72" cy="750.3" r="3.4" fill="#231f20"/>
<circle cx="421.12" cy="774.3" r="3.4" fill="#231f20"/>
<circle cx="430.32" cy="769.7" r="3.4" fill="#231f20"/>
<text x="425.72" y="748.6" font-size="18" text-anchor="middle" fill="#231f20" >*</text>
<text transform="translate(428.72 871.6) rotate(-45) scale(0.9078 1)" text-anchor="end" font-size="13.8" fill="#231f20" stroke="#231f20" stroke-width="0.1">IRF3</text>
<line x1="448.15" y1="847.8" x2="448.15" y2="859.3" stroke="#231f20" stroke-width="1" />
<line x1="448.15" y1="744" x2="448.15" y2="792" stroke="#231f20" stroke-width="1" />
<line x1="444.35" y1="744" x2="451.95" y2="744" stroke="#231f20" stroke-width="1" />
<line x1="444.35" y1="792" x2="451.95" y2="792" stroke="#231f20" stroke-width="1" />
<circle cx="443.25" cy="752.6" r="3.4" fill="#231f20"/>
<circle cx="452.95" cy="755.7" r="3.4" fill="#231f20"/>
<circle cx="448.15" cy="796" r="3.4" fill="#231f20"/>
<text transform="translate(451.15 871.6) rotate(-45) scale(0.8904 1)" text-anchor="end" font-size="13.8" fill="#231f20" stroke="#231f20" stroke-width="0.1">TBK1</text>
<line x1="470.58" y1="847.8" x2="470.58" y2="859.3" stroke="#231f20" stroke-width="1" />
<line x1="470.58" y1="757.4" x2="470.58" y2="780" stroke="#231f20" stroke-width="1" />
<line x1="466.78" y1="757.4" x2="474.38" y2="757.4" stroke="#231f20" stroke-width="1" />
<line x1="466.78" y1="780" x2="474.38" y2="780" stroke="#231f20" stroke-width="1" />
<circle cx="470.58" cy="757.2" r="3.4" fill="#231f20"/>
<circle cx="470.58" cy="772.9" r="3.4" fill="#231f20"/>
<circle cx="470.58" cy="779.7" r="3.4" fill="#231f20"/>
<text transform="translate(473.58 871.6) rotate(-45) scale(0.9254 1)" text-anchor="end" font-size="13.8" fill="#231f20" stroke="#231f20" stroke-width="0.1">PTH</text>
<line x1="493.01" y1="847.8" x2="493.01" y2="859.3" stroke="#231f20" stroke-width="1" />
<line x1="493.01" y1="749.2" x2="493.01" y2="791" stroke="#231f20" stroke-width="1" />
<line x1="489.21" y1="749.2" x2="496.81" y2="749.2" stroke="#231f20" stroke-width="1" />
<line x1="489.21" y1="791" x2="496.81" y2="791" stroke="#231f20" stroke-width="1" />
<circle cx="493.01" cy="746.1" r="3.4" fill="#231f20"/>
<circle cx="493.01" cy="778.5" r="3.4" fill="#231f20"/>
<circle cx="493.01" cy="785.6" r="3.4" fill="#231f20"/>
<text transform="translate(496.01 871.6) rotate(-45) scale(0.9202 1)" text-anchor="end" font-size="13.8" fill="#231f20" stroke="#231f20" stroke-width="0.1">IL10RB</text>
<line x1="515.44" y1="847.8" x2="515.44" y2="859.3" stroke="#231f20" stroke-width="1" />
<line x1="515.44" y1="746.3" x2="515.44" y2="799.6" stroke="#231f20" stroke-width="1" />
<line x1="511.64" y1="746.3" x2="519.24" y2="746.3" stroke="#231f20" stroke-width="1" />
<line x1="511.64" y1="799.6" x2="519.24" y2="799.6" stroke="#231f20" stroke-width="1" />
<circle cx="515.44" cy="750.9" r="3.4" fill="#231f20"/>
<circle cx="515.44" cy="767.2" r="3.4" fill="#231f20"/>
<circle cx="515.44" cy="802.5" r="3.4" fill="#231f20"/>
<text transform="translate(518.44 871.6) rotate(-45) scale(0.9041 1)" text-anchor="end" font-size="13.8" fill="#231f20" stroke="#231f20" stroke-width="0.1">TXNDC15</text>
<text x="312.8" y="548.8" font-size="20.3" text-anchor="middle" fill="#231f20" >Increased IL-1β screening Hits</text>
<text x="318.4" y="935" font-size="21" text-anchor="middle" fill="#231f20" >CRISPR RNP</text>
<text x="48.3" y="696" font-size="21.3" text-anchor="middle" transform="rotate(-90 48.3 696)" fill="#231f20" >MFI intracellular IL-1β</text>
<text x="10" y="523" font-size="26" font-weight="bold" fill="#231f20" >b</text>
<rect x="616.5" y="81" width="60.1" height="39.68" fill="#ffffff" stroke="#231f20" stroke-width="1"/>
<rect x="676.6" y="81" width="60.9" height="39.68" fill="#d23a3f" stroke="#231f20" stroke-width="1"/>
<line x1="609.2" y1="100.84" x2="616.5" y2="100.84" stroke="#231f20" stroke-width="1.5" />
<text transform="translate(579.12 104.54) scale(0.8639 1)" font-size="14.2" fill="#231f20" stroke="#231f20" stroke-width="0.15">NTC</text>
<rect x="616.5" y="120.68" width="60.1" height="39.68" fill="#fdfdfd" stroke="#231f20" stroke-width="1"/>
<rect x="676.6" y="120.68" width="60.9" height="39.68" fill="#f8dadb" stroke="#231f20" stroke-width="1"/>
<line x1="609.2" y1="140.52" x2="616.5" y2="140.52" stroke="#231f20" stroke-width="1.5" />
<text transform="translate(570.1 144.22) scale(0.8816 1)" font-size="14.2" fill="#231f20" stroke="#231f20" stroke-width="0.15">ARNT</text>
<rect x="616.5" y="160.36" width="60.1" height="39.68" fill="#ffffff" stroke="#231f20" stroke-width="1"/>
<rect x="676.6" y="160.36" width="60.9" height="39.68" fill="#db6768" stroke="#231f20" stroke-width="1"/>
<line x1="609.2" y1="180.2" x2="616.5" y2="180.2" stroke="#231f20" stroke-width="1.5" />
<text transform="translate(565.04 183.9) scale(0.9276 1)" font-size="14.2" fill="#231f20" stroke="#231f20" stroke-width="0.15">GNAI2</text>
<rect x="616.5" y="200.04" width="60.1" height="39.68" fill="#e2dff1" stroke="#231f20" stroke-width="1"/>
<rect x="676.6" y="200.04" width="60.9" height="39.68" fill="#f0b4b4" stroke="#231f20" stroke-width="1"/>
<line x1="609.2" y1="219.88" x2="616.5" y2="219.88" stroke="#231f20" stroke-width="1.5" />
<text transform="translate(576.04 223.58) scale(0.8939 1)" font-size="14.2" fill="#231f20" stroke="#231f20" stroke-width="0.15">WAS</text>
<rect x="616.5" y="239.72" width="60.1" height="39.68" fill="#dad8ec" stroke="#231f20" stroke-width="1"/>
<rect x="676.6" y="239.72" width="60.9" height="39.68" fill="#eeb0b0" stroke="#231f20" stroke-width="1"/>
<line x1="609.2" y1="259.56" x2="616.5" y2="259.56" stroke="#231f20" stroke-width="1.5" />
<text transform="translate(578.1 263.26) scale(0.8799 1)" font-size="14.2" fill="#231f20" stroke="#231f20" stroke-width="0.15">AHR</text>
<rect x="616.5" y="279.4" width="60.1" height="39.68" fill="#d4d2ea" stroke="#231f20" stroke-width="1"/>
<rect x="676.6" y="279.4" width="60.9" height="39.68" fill="#fbfcfe" stroke="#231f20" stroke-width="1"/>
<line x1="609.2" y1="299.24" x2="616.5" y2="299.24" stroke="#231f20" stroke-width="1.5" />
<text transform="translate(568.66 302.94) scale(0.8573 1)" font-size="14.2" fill="#231f20" stroke="#231f20" stroke-width="0.15">TIRAP</text>
<rect x="616.5" y="319.08" width="60.1" height="39.68" fill="#aeabd6" stroke="#231f20" stroke-width="1"/>
<rect x="676.6" y="319.08" width="60.9" height="39.68" fill="#ffffff" stroke="#231f20" stroke-width="1"/>
<line x1="609.2" y1="338.92" x2="616.5" y2="338.92" stroke="#231f20" stroke-width="1.5" />
<text transform="translate(567.76 342.62) scale(0.8898 1)" font-size="14.2" fill="#231f20" stroke="#231f20" stroke-width="0.15">IRAK4</text>
<rect x="616.5" y="358.76" width="60.1" height="39.68" fill="#9594ca" stroke="#231f20" stroke-width="1"/>
<rect x="676.6" y="358.76" width="60.9" height="39.68" fill="#e99c9e" stroke="#231f20" stroke-width="1"/>
<line x1="609.2" y1="378.6" x2="616.5" y2="378.6" stroke="#231f20" stroke-width="1.5" />
<text transform="translate(570.88 382.3) scale(0.9550 1)" font-size="14.2" fill="#231f20" stroke="#231f20" stroke-width="0.15">IPMK</text>
<rect x="616.5" y="398.44" width="60.1" height="39.68" fill="#6e73b8" stroke="#231f20" stroke-width="1"/>
<rect x="676.6" y="398.44" width="60.9" height="39.68" fill="#eeabac" stroke="#231f20" stroke-width="1"/>
<line x1="609.2" y1="418.28" x2="616.5" y2="418.28" stroke="#231f20" stroke-width="1.5" />
<text transform="translate(551.12 421.98) scale(0.9531 1)" font-size="14.2" fill="#231f20" stroke="#231f20" stroke-width="0.15">MAP2K1</text>
<rect x="616.5" y="438.12" width="60.1" height="39.68" fill="#5c62ae" stroke="#231f20" stroke-width="1"/>
<rect x="676.6" y="438.12" width="60.9" height="39.68" fill="#eef0f7" stroke="#231f20" stroke-width="1"/>
<line x1="609.2" y1="457.96" x2="616.5" y2="457.96" stroke="#231f20" stroke-width="1.5" />
<text transform="translate(571.61 461.66) scale(0.8882 1)" font-size="14.2" fill="#231f20" stroke="#231f20" stroke-width="0.15">JUNB</text>
<rect x="616.5" y="477.8" width="60.1" height="39.68" fill="#5e64af" stroke="#231f20" stroke-width="1"/>
<rect x="676.6" y="477.8" width="60.9" height="39.68" fill="#f5c8c8" stroke="#231f20" stroke-width="1"/>
<line x1="609.2" y1="497.64" x2="616.5" y2="497.64" stroke="#231f20" stroke-width="1.5" />
<text transform="translate(582.07 501.34) scale(0.7519 1)" font-size="14.2" fill="#231f20" stroke="#231f20" stroke-width="0.15">CSK</text>
<rect x="616.5" y="517.48" width="60.1" height="39.68" fill="#4e58aa" stroke="#231f20" stroke-width="1"/>
<rect x="676.6" y="517.48" width="60.9" height="39.68" fill="#f8dcdd" stroke="#231f20" stroke-width="1"/>
<line x1="609.2" y1="537.32" x2="616.5" y2="537.32" stroke="#231f20" stroke-width="1.5" />
<text transform="translate(576.57 541.02) scale(0.9079 1)" font-size="14.2" fill="#231f20" stroke="#231f20" stroke-width="0.15">RIT1</text>
<rect x="616.5" y="557.16" width="60.1" height="39.68" fill="#4c57a9" stroke="#231f20" stroke-width="1"/>
<rect x="676.6" y="557.16" width="60.9" height="39.68" fill="#f8dcdd" stroke="#231f20" stroke-width="1"/>
<line x1="609.2" y1="577" x2="616.5" y2="577" stroke="#231f20" stroke-width="1.5" />
<text transform="translate(574.91 580.7) scale(0.8723 1)" font-size="14.2" fill="#231f20" stroke="#231f20" stroke-width="0.15">JAK2</text>
<rect x="616.5" y="596.84" width="60.1" height="39.68" fill="#4656a8" stroke="#231f20" stroke-width="1"/>
<rect x="676.6" y="596.84" width="60.9" height="39.68" fill="#fbeaea" stroke="#231f20" stroke-width="1"/>
<line x1="609.2" y1="616.68" x2="616.5" y2="616.68" stroke="#231f20" stroke-width="1.5" />
<text transform="translate(558.21 620.38) scale(0.8260 1)" font-size="14.2" fill="#231f20" stroke="#231f20" stroke-width="0.15">CSF2RB</text>
<rect x="616.5" y="636.52" width="60.1" height="39.68" fill="#646ab2" stroke="#231f20" stroke-width="1"/>
<rect x="676.6" y="636.52" width="60.9" height="39.68" fill="#555dad" stroke="#231f20" stroke-width="1"/>
<line x1="609.2" y1="656.36" x2="616.5" y2="656.36" stroke="#231f20" stroke-width="1.5" />
<text transform="translate(547.27 660.06) scale(0.8813 1)" font-size="14.2" fill="#231f20" stroke="#231f20" stroke-width="0.15">CCDC134</text>
<rect x="616.5" y="676.2" width="60.1" height="39.68" fill="#3e51a5" stroke="#231f20" stroke-width="1"/>
<rect x="676.6" y="676.2" width="60.9" height="39.68" fill="#4152a6" stroke="#231f20" stroke-width="1"/>
<line x1="609.2" y1="696.04" x2="616.5" y2="696.04" stroke="#231f20" stroke-width="1.5" />
<text transform="translate(558.5 699.74) scale(0.9704 1)" font-size="14.2" fill="#231f20" stroke="#231f20" stroke-width="0.15">MYD88</text>
<rect x="616.5" y="715.88" width="60.1" height="39.68" fill="#3a50a4" stroke="#231f20" stroke-width="1"/>
<rect x="676.6" y="715.88" width="60.9" height="39.68" fill="#5d63ae" stroke="#231f20" stroke-width="1"/>
<line x1="609.2" y1="735.72" x2="616.5" y2="735.72" stroke="#231f20" stroke-width="1.5" />
<text transform="translate(574.91 739.42) scale(0.8705 1)" font-size="14.2" fill="#231f20" stroke="#231f20" stroke-width="0.15">JAK1</text>
<rect x="616.5" y="755.56" width="60.1" height="39.68" fill="#3b50a4" stroke="#231f20" stroke-width="1"/>
<rect x="676.6" y="755.56" width="60.9" height="39.68" fill="#555cac" stroke="#231f20" stroke-width="1"/>
<line x1="609.2" y1="775.4" x2="616.5" y2="775.4" stroke="#231f20" stroke-width="1.5" />
<text transform="translate(565.66 779.1) scale(0.8619 1)" font-size="14.2" fill="#231f20" stroke="#231f20" stroke-width="0.15">TRAF6</text>
<rect x="616.5" y="795.24" width="60.1" height="39.68" fill="#3b50a4" stroke="#231f20" stroke-width="1"/>
<rect x="676.6" y="795.24" width="60.9" height="39.68" fill="#3b50a4" stroke="#231f20" stroke-width="1"/>
<line x1="609.2" y1="815.08" x2="616.5" y2="815.08" stroke="#231f20" stroke-width="1.5" />
<text transform="translate(559.44 818.78) scale(0.9361 1)" font-size="14.2" fill="#231f20" stroke="#231f20" stroke-width="0.15">MAPK1</text>
<rect x="616.5" y="81" width="121" height="753.92" fill="none" stroke="#231f20" stroke-width="1.3"/>
<line x1="647.15" y1="834.92" x2="647.15" y2="842.92" stroke="#231f20" stroke-width="1.4" />
<line x1="707.95" y1="834.92" x2="707.95" y2="842.92" stroke="#231f20" stroke-width="1.4" />
<text transform="translate(636.66 858.82) scale(0.7932 1)" font-size="14.0" fill="#231f20" stroke="#231f20" stroke-width="0.15">LPS</text>
<text transform="translate(696.96 858.82) scale(0.7932 1)" font-size="14.0" fill="#231f20" stroke="#231f20" stroke-width="0.15">LPS</text>
<text transform="translate(674.4 876.52) scale(0.9971 1)" font-size="14.0" fill="#231f20" stroke="#231f20" stroke-width="0.15">+ Nigericin</text>
<text x="677.4" y="46.9" font-size="19.7" text-anchor="middle" fill="#231f20" >Secreted IL-1β</text>
<text x="677.4" y="72" font-size="19.7" text-anchor="middle" fill="#231f20" >low hits</text>
<text x="562.1" y="28" font-size="26" font-weight="bold" fill="#231f20" >c</text>
<rect x="845.4" y="81" width="61" height="39.68" fill="#ffffff" stroke="#231f20" stroke-width="1"/>
<rect x="906.4" y="81" width="61.6" height="39.68" fill="#d23a3f" stroke="#231f20" stroke-width="1"/>
<line x1="838.1" y1="100.84" x2="845.4" y2="100.84" stroke="#231f20" stroke-width="1.5" />
<text transform="translate(808.1 104.54) scale(0.8785 1)" font-size="14.2" fill="#231f20" stroke="#231f20" stroke-width="0.15">NTC</text>
<rect x="845.4" y="120.68" width="61" height="39.68" fill="#efb0b1" stroke="#231f20" stroke-width="1"/>
<rect x="906.4" y="120.68" width="61.6" height="39.68" fill="#f0b5b5" stroke="#231f20" stroke-width="1"/>
<line x1="838.1" y1="140.52" x2="845.4" y2="140.52" stroke="#231f20" stroke-width="1.5" />
<text transform="translate(802.95 144.22) scale(0.8705 1)" font-size="14.2" fill="#231f20" stroke="#231f20" stroke-width="0.15">TBK1</text>
<rect x="845.4" y="160.36" width="61" height="39.68" fill="#fcecec" stroke="#231f20" stroke-width="1"/>
<rect x="906.4" y="160.36" width="61.6" height="39.68" fill="#d33d42" stroke="#231f20" stroke-width="1"/>
<line x1="838.1" y1="180.2" x2="845.4" y2="180.2" stroke="#231f20" stroke-width="1.5" />
<text transform="translate(806.36 183.9) scale(0.8928 1)" font-size="14.2" fill="#231f20" stroke="#231f20" stroke-width="0.15">IRF3</text>
<rect x="845.4" y="200.04" width="61" height="39.68" fill="#fcf2f2" stroke="#231f20" stroke-width="1"/>
<rect x="906.4" y="200.04" width="61.6" height="39.68" fill="#f7d8da" stroke="#231f20" stroke-width="1"/>
<line x1="838.1" y1="219.88" x2="845.4" y2="219.88" stroke="#231f20" stroke-width="1.5" />
<text transform="translate(802.59 223.58) scale(0.8599 1)" font-size="14.2" fill="#231f20" stroke="#231f20" stroke-width="0.15">CUL5</text>
<rect x="845.4" y="239.72" width="61" height="39.68" fill="#fdf5f5" stroke="#231f20" stroke-width="1"/>
<rect x="906.4" y="239.72" width="61.6" height="39.68" fill="#e8999b" stroke="#231f20" stroke-width="1"/>
<line x1="838.1" y1="259.56" x2="845.4" y2="259.56" stroke="#231f20" stroke-width="1.5" />
<text transform="translate(782.65 263.26) scale(0.8884 1)" font-size="14.2" fill="#231f20" stroke="#231f20" stroke-width="0.15">TNFAIP3</text>
<rect x="845.4" y="279.4" width="61" height="39.68" fill="#fdf5f5" stroke="#231f20" stroke-width="1"/>
<rect x="906.4" y="279.4" width="61.6" height="39.68" fill="#fae6e6" stroke="#231f20" stroke-width="1"/>
<line x1="838.1" y1="299.24" x2="845.4" y2="299.24" stroke="#231f20" stroke-width="1.5" />
<text transform="translate(794.2 302.94) scale(0.8381 1)" font-size="14.2" fill="#231f20" stroke="#231f20" stroke-width="0.15">GSK3B</text>
<rect x="845.4" y="319.08" width="61" height="39.68" fill="#fcf8f8" stroke="#231f20" stroke-width="1"/>
<rect x="906.4" y="319.08" width="61.6" height="39.68" fill="#ffffff" stroke="#231f20" stroke-width="1"/>
<line x1="838.1" y1="338.92" x2="845.4" y2="338.92" stroke="#231f20" stroke-width="1.5" />
<text transform="translate(796.02 342.62) scale(0.8869 1)" font-size="14.2" fill="#231f20" stroke="#231f20" stroke-width="0.15">ZFP36</text>
<rect x="845.4" y="358.76" width="61" height="39.68" fill="#fcf8f8" stroke="#231f20" stroke-width="1"/>
<rect x="906.4" y="358.76" width="61.6" height="39.68" fill="#f7d5d6" stroke="#231f20" stroke-width="1"/>
<line x1="838.1" y1="378.6" x2="845.4" y2="378.6" stroke="#231f20" stroke-width="1.5" />
<text transform="translate(787.11 382.3) scale(0.8709 1)" font-size="14.2" fill="#231f20" stroke="#231f20" stroke-width="0.15">PRPF39</text>
<rect x="845.4" y="398.44" width="61" height="39.68" fill="#fcfcfc" stroke="#231f20" stroke-width="1"/>
<rect x="906.4" y="398.44" width="61.6" height="39.68" fill="#fae6e7" stroke="#231f20" stroke-width="1"/>
<line x1="838.1" y1="418.28" x2="845.4" y2="418.28" stroke="#231f20" stroke-width="1.5" />
<text transform="translate(800.99 421.98) scale(0.8888 1)" font-size="14.2" fill="#231f20" stroke="#231f20" stroke-width="0.15">RNF7</text>
<rect x="845.4" y="438.12" width="61" height="39.68" fill="#ffffff" stroke="#231f20" stroke-width="1"/>
<rect x="906.4" y="438.12" width="61.6" height="39.68" fill="#dd6e70" stroke="#231f20" stroke-width="1"/>
<line x1="838.1" y1="457.96" x2="845.4" y2="457.96" stroke="#231f20" stroke-width="1.5" />
<text transform="translate(793.92 461.66) scale(0.8585 1)" font-size="14.2" fill="#231f20" stroke="#231f20" stroke-width="0.15">PLCG2</text>
<rect x="845.4" y="477.8" width="61" height="39.68" fill="#ffffff" stroke="#231f20" stroke-width="1"/>
<rect x="906.4" y="477.8" width="61.6" height="39.68" fill="#e08182" stroke="#231f20" stroke-width="1"/>
<line x1="838.1" y1="497.64" x2="845.4" y2="497.64" stroke="#231f20" stroke-width="1.5" />
<text transform="translate(790.34 501.34) scale(0.9071 1)" font-size="14.2" fill="#231f20" stroke="#231f20" stroke-width="0.15">IL10RA</text>
<rect x="845.4" y="517.48" width="61" height="39.68" fill="#fafbfd" stroke="#231f20" stroke-width="1"/>
<rect x="906.4" y="517.48" width="61.6" height="39.68" fill="#db6667" stroke="#231f20" stroke-width="1"/>
<line x1="838.1" y1="537.32" x2="845.4" y2="537.32" stroke="#231f20" stroke-width="1.5" />
<text transform="translate(808.47 541.02) scale(0.9109 1)" font-size="14.2" fill="#231f20" stroke="#231f20" stroke-width="0.15">PTH</text>
<rect x="845.4" y="557.16" width="61" height="39.68" fill="#f8f8fb" stroke="#231f20" stroke-width="1"/>
<rect x="906.4" y="557.16" width="61.6" height="39.68" fill="#d54347" stroke="#231f20" stroke-width="1"/>
<line x1="838.1" y1="577" x2="845.4" y2="577" stroke="#231f20" stroke-width="1.5" />
<text transform="translate(790.32 580.7) scale(0.9213 1)" font-size="14.2" fill="#231f20" stroke="#231f20" stroke-width="0.15">IL10RB</text>
<rect x="845.4" y="596.84" width="61" height="39.68" fill="#e9e7f3" stroke="#231f20" stroke-width="1"/>
<rect x="906.4" y="596.84" width="61.6" height="39.68" fill="#ffffff" stroke="#231f20" stroke-width="1"/>
<line x1="838.1" y1="616.68" x2="845.4" y2="616.68" stroke="#231f20" stroke-width="1.5" />
<text transform="translate(775.85 620.38) scale(0.8961 1)" font-size="14.2" fill="#231f20" stroke="#231f20" stroke-width="0.15">TXNDC15</text>
<rect x="845.4" y="636.52" width="61" height="39.68" fill="#dcd9ec" stroke="#231f20" stroke-width="1"/>
<rect x="906.4" y="636.52" width="61.6" height="39.68" fill="#f0f1f8" stroke="#231f20" stroke-width="1"/>
<line x1="838.1" y1="656.36" x2="845.4" y2="656.36" stroke="#231f20" stroke-width="1.5" />
<text transform="translate(793.43 660.06) scale(0.8986 1)" font-size="14.2" fill="#231f20" stroke="#231f20" stroke-width="0.15">SH2B3</text>
<rect x="845.4" y="676.2" width="61" height="39.68" fill="#e2e0f0" stroke="#231f20" stroke-width="1"/>
<rect x="906.4" y="676.2" width="61.6" height="39.68" fill="#f0b3b3" stroke="#231f20" stroke-width="1"/>
<line x1="838.1" y1="696.04" x2="845.4" y2="696.04" stroke="#231f20" stroke-width="1.5" />
<text transform="translate(794.36 699.74) scale(0.8464 1)" font-size="14.2" fill="#231f20" stroke="#231f20" stroke-width="0.15">SENP8</text>
<rect x="845.4" y="715.88" width="61" height="39.68" fill="#7074b9" stroke="#231f20" stroke-width="1"/>
<rect x="906.4" y="715.88" width="61.6" height="39.68" fill="#f9dfdf" stroke="#231f20" stroke-width="1"/>
<line x1="838.1" y1="735.72" x2="845.4" y2="735.72" stroke="#231f20" stroke-width="1.5" />
<text transform="translate(790.4 739.42) scale(0.9667 1)" font-size="14.2" fill="#231f20" stroke="#231f20" stroke-width="0.15">NAA38</text>
<rect x="845.4" y="755.56" width="61" height="39.68" fill="#4f59aa" stroke="#231f20" stroke-width="1"/>
<rect x="906.4" y="755.56" width="61.6" height="39.68" fill="#5b61ae" stroke="#231f20" stroke-width="1"/>
<line x1="838.1" y1="775.4" x2="845.4" y2="775.4" stroke="#231f20" stroke-width="1.5" />
<text transform="translate(795.15 779.1) scale(0.8611 1)" font-size="14.2" fill="#231f20" stroke="#231f20" stroke-width="0.15">SGF29</text>
<rect x="845.4" y="795.24" width="61" height="39.68" fill="#4b57a9" stroke="#231f20" stroke-width="1"/>
<rect x="906.4" y="795.24" width="61.6" height="39.68" fill="#a29fd0" stroke="#231f20" stroke-width="1"/>
<line x1="838.1" y1="815.08" x2="845.4" y2="815.08" stroke="#231f20" stroke-width="1.5" />
<text transform="translate(797.03 818.78) scale(1.0321 1)" font-size="14.2" fill="#231f20" stroke="#231f20" stroke-width="0.15">MIDN</text>
<rect x="845.4" y="81" width="122.6" height="753.92" fill="none" stroke="#231f20" stroke-width="1.3"/>
<line x1="876.5" y1="834.92" x2="876.5" y2="842.92" stroke="#231f20" stroke-width="1.4" />
<line x1="938.1" y1="834.92" x2="938.1" y2="842.92" stroke="#231f20" stroke-width="1.4" />
<text transform="translate(866.01 858.82) scale(0.7932 1)" font-size="14.0" fill="#231f20" stroke="#231f20" stroke-width="0.15">LPS</text>
<text transform="translate(927.11 858.82) scale(0.7932 1)" font-size="14.0" fill="#231f20" stroke="#231f20" stroke-width="0.15">LPS</text>
<text transform="translate(904.55 876.52) scale(0.9971 1)" font-size="14.0" fill="#231f20" stroke="#231f20" stroke-width="0.15">+ Nigericin</text>
<text x="905.3" y="46.9" font-size="19.7" text-anchor="middle" fill="#231f20" >Secreted IL-1β</text>
<text x="905.3" y="72" font-size="19.7" text-anchor="middle" fill="#231f20" >high hits</text>
<text x="787.6" y="28" font-size="26" font-weight="bold" fill="#231f20" >d</text>
<rect x="717.5" y="897.2" width="196.1" height="17.9" fill="url(#cb)" stroke="#231f20" stroke-width="1"/>
<text x="719.2" y="929.6" font-size="13.6" text-anchor="middle" fill="#231f20" >0</text>
<line x1="756.72" y1="897.2" x2="756.72" y2="900.4" stroke="#231f20" stroke-width="1.2" />
<line x1="756.72" y1="911.9" x2="756.72" y2="915.1" stroke="#231f20" stroke-width="1.2" />
<text x="756.72" y="929.6" font-size="13.6" text-anchor="middle" fill="#231f20" >100</text>
<line x1="795.94" y1="897.2" x2="795.94" y2="900.4" stroke="#231f20" stroke-width="1.2" />
<line x1="795.94" y1="911.9" x2="795.94" y2="915.1" stroke="#231f20" stroke-width="1.2" />
<text x="795.94" y="929.6" font-size="13.6" text-anchor="middle" fill="#231f20" >200</text>
<line x1="835.16" y1="897.2" x2="835.16" y2="900.4" stroke="#231f20" stroke-width="1.2" />
<line x1="835.16" y1="911.9" x2="835.16" y2="915.1" stroke="#231f20" stroke-width="1.2" />
<text x="835.16" y="929.6" font-size="13.6" text-anchor="middle" fill="#231f20" >300</text>
<line x1="874.38" y1="897.2" x2="874.38" y2="900.4" stroke="#231f20" stroke-width="1.2" />
<line x1="874.38" y1="911.9" x2="874.38" y2="915.1" stroke="#231f20" stroke-width="1.2" />
<text x="874.38" y="929.6" font-size="13.6" text-anchor="middle" fill="#231f20" >400</text>
<text x="911.9" y="929.6" font-size="13.6" text-anchor="middle" fill="#231f20" >500</text>
<text transform="translate(772.49 950) scale(0.9086 1)" font-size="13" fill="#231f20" stroke="#231f20" stroke-width="0.15">% NTC response</text>
</svg>
</body></html>
